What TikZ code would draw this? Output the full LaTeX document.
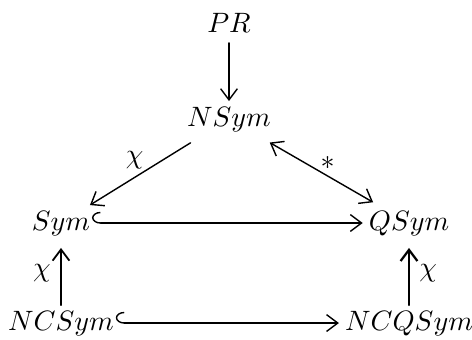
\documentclass[tikz,border=0pt]{standalone}
\usetikzlibrary{arrows.meta}
\begin{document}
\begin{tikzpicture}[x=0.357pt,y=-0.357pt,line cap=round,
  obj/.style={inner sep=2pt,text height=1.6ex,text depth=0.35ex},
  map/.style={line width=0.5pt,-{Straight Barb[length=4pt,width=6pt]}},
  incl/.style={map,{Hooks[right,length=3pt,width=8pt]}-{Straight Barb[length=4pt,width=6pt]},shorten <=-1.5pt}]
  \useasboundingbox (0,0) rectangle (472,339);
  \node[obj] (pr) at (229,25) {$PR$};
  \node[obj] (nsym) at (229,119) {$NSym$};
  \node[obj] (sym) at (61,223) {$Sym$};
  \node[obj] (qsym) at (409,223) {$QSym$};
  \node[obj] (ncsym) at (61,323) {$NCSym$};
  \node[obj] (ncqsym) at (409,323) {$NCQSym$};
  \draw[map] (pr) -- (nsym);
  \draw[map,shorten <=4pt] (nsym) -- node[above left=-3pt] {$\chi$} (sym);
  \draw[map,{Straight Barb[length=4pt,width=6pt]}-{Straight Barb[length=4pt,width=6pt]},
    shorten <=4pt,shorten >=2pt] (nsym) -- node[above right=-3pt] {$*$} (qsym);
  \draw[incl] (sym) -- (qsym);
  \draw[incl] (ncsym) -- (ncqsym);
  \draw[map,line width=0.65pt,shorten >=2.5pt] (ncsym) -- node[left] {$\chi$} (sym);
  \draw[map,line width=0.8pt,shorten >=2.5pt] (ncqsym) -- node[right] {$\chi$} (qsym);
\end{tikzpicture}
\end{document}
